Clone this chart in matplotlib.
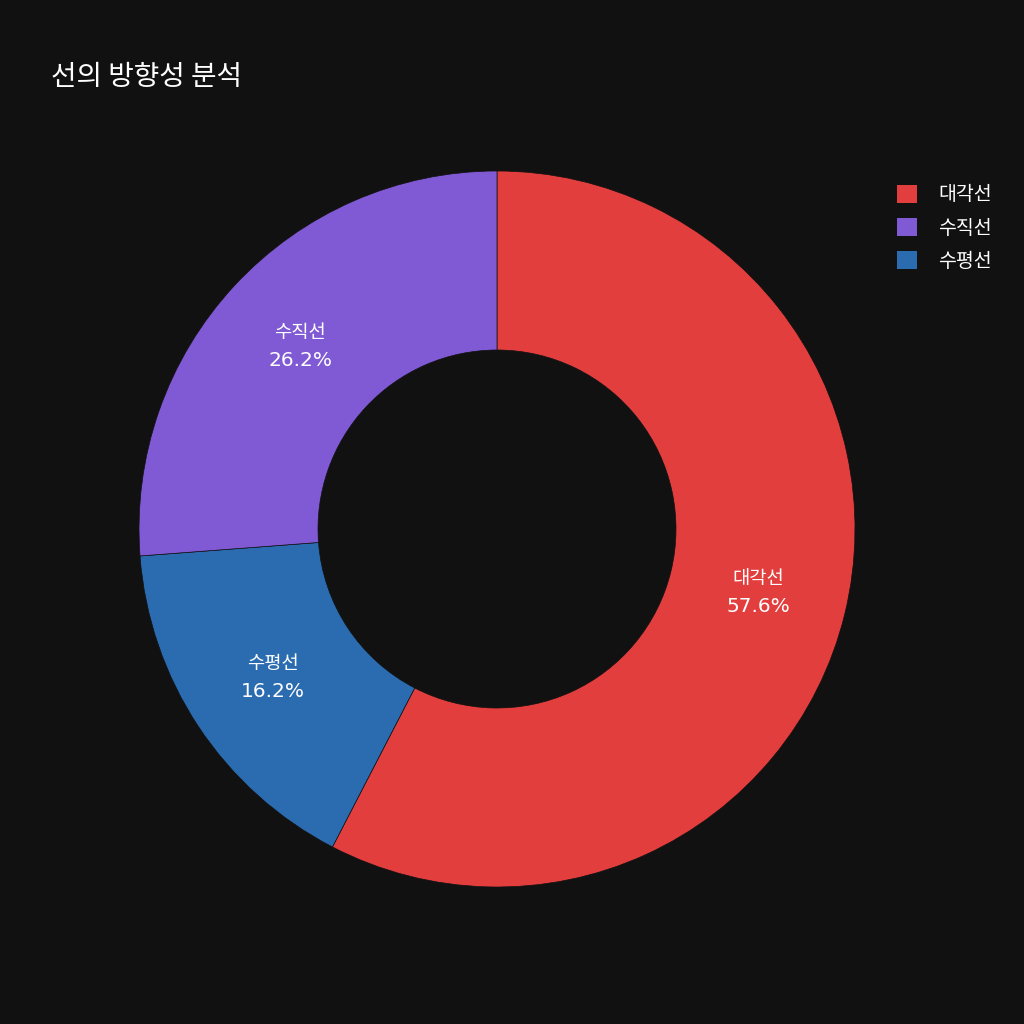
import numpy as np
import matplotlib.pyplot as plt
from matplotlib.patches import Patch

plt.rcParams['font.family'] = ['Noto Sans CJK KR', 'DejaVu Sans']

# data (drawn clockwise from 12 o'clock)
labels = ["대각선", "수평선", "수직선"]
values = [57.6, 16.2, 26.2]
colors = ["#E33E3E", "#2B6CB0", "#805AD5"]
legend_order = ["대각선", "수직선", "수평선"]

bg = "#111111"
fig = plt.figure(figsize=(10.24, 10.24), dpi=100, facecolor=bg)

cx, cy, r = 497 / 1024, 1 - 529 / 1024, 358 / 1024
ax = fig.add_axes([cx - r, cy - r, 2 * r, 2 * r])
ax.set_facecolor(bg)

wedges, _ = ax.pie(values, colors=colors, startangle=90, counterclock=False,
                   radius=1, wedgeprops=dict(width=0.5, edgecolor=bg, linewidth=0.5))
ax.set_xlim(-1, 1)
ax.set_ylim(-1, 1)
ax.set_aspect('equal')
ax.axis('off')

total = sum(values)
for w, lab, v in zip(wedges, labels, values):
    ang = np.deg2rad((w.theta1 + w.theta2) / 2)
    x, y = 0.75 * np.cos(ang), 0.75 * np.sin(ang)
    ax.text(x, y + 0.038, lab, color="white", fontsize=13.5, ha="center", va="center")
    ax.text(x, y - 0.04, f"{v / total * 100:.1f}%", color="white", fontsize=14.5,
            family=['DejaVu Sans'], ha="center", va="center")

fig.text(51 / 1024, 1 - 77 / 1024, "선의 방향성 분석", color="white", fontsize=20,
         ha="left", va="center")

handles = [Patch(facecolor=colors[labels.index(l)], label=l) for l in legend_order]
leg = fig.legend(handles=handles, loc="upper left", bbox_to_anchor=(879 / 1024, 1 - 167 / 1024),
                 frameon=False, fontsize=14, labelcolor="white", handlelength=1.03,
                 handleheight=1.03, handletextpad=1.1, labelspacing=0.62)

fig.savefig("out.png", dpi=100, facecolor=bg)
